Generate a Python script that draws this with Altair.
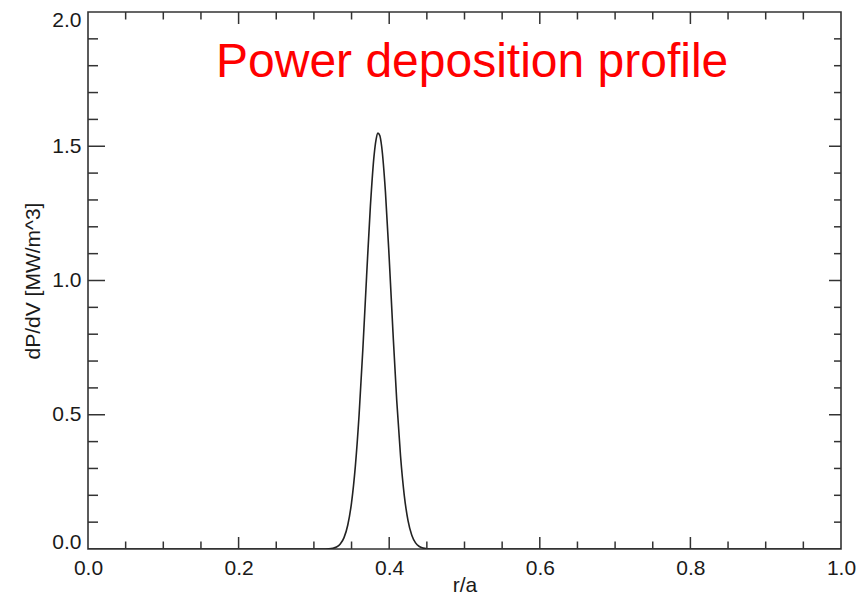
import altair as alt
import pandas as pd

# ---- data ----
r_vals = [0.0, 0.300, 0.310, 0.320, 0.325, 0.330, 0.335, 0.340, 0.345, 0.350, 0.355,
          0.360, 0.365, 0.370, 0.375, 0.380, 0.3825, 0.385, 0.3875, 0.390, 0.395,
          0.400, 0.405, 0.410, 0.415, 0.420, 0.425, 0.430, 0.435, 0.440, 0.445,
          0.450, 0.460, 0.470, 1.0]
dpdv_vals = [0.0, 0.0, 0.0001, 0.0009, 0.0027, 0.0074, 0.0185, 0.0425, 0.0895, 0.173, 0.307,
             0.499, 0.744, 1.017, 1.276, 1.468, 1.524, 1.549, 1.540, 1.499, 1.330,
             1.083, 0.808, 0.553, 0.348, 0.200, 0.1057, 0.0512, 0.0227, 0.0093, 0.0035,
             0.0012, 0.0001, 0.0, 0.0]

x_major = [0.0, 0.2, 0.4, 0.6, 0.8, 1.0]
x_minor = [0.05, 0.10, 0.15, 0.25, 0.30, 0.35, 0.45, 0.50, 0.55,
           0.65, 0.70, 0.75, 0.85, 0.90, 0.95]
y_major = [0.0, 0.5, 1.0, 1.5, 2.0]
y_minor = [0.1, 0.2, 0.3, 0.4, 0.6, 0.7, 0.8, 0.9,
           1.1, 1.2, 1.3, 1.4, 1.6, 1.7, 1.8, 1.9]

title_text = ["Power deposition profile"]
title_x = [0.17]
title_y = [1.758]

W, H = 753, 537
FONT = "Liberation Sans"

curve = pd.DataFrame({"r": r_vals, "p": dpdv_vals})

xscale = alt.Scale(domain=[0, 1], nice=False, zero=False)
yscale = alt.Scale(domain=[0, 2], nice=False, zero=False)

xaxis = alt.Axis(values=x_major, format=".1f", ticks=False, domain=False,
                 grid=False, labelFontSize=21, labelFont=FONT,
                 labelColor="#1a1a1a", labelPadding=8, labelFlush=False,
                 title="r/a", titleFont=FONT, titleFontSize=21,
                 titleFontWeight="normal", titleColor="#1a1a1a",
                 titlePadding=-4)
yaxis = alt.Axis(values=y_major, format=".1f", ticks=False, domain=False,
                 grid=False, labelFontSize=21, labelFont=FONT,
                 labelColor="#1a1a1a", labelPadding=7, labelFlush=True,
                 labelFlushOffset=3,
                 title="dP/dV [MW/m^3]", titleFont=FONT, titleFontSize=21,
                 titleFontWeight="normal", titleColor="#1a1a1a",
                 titlePadding=8)

line = alt.Chart(curve).mark_line(
    color="#222222", strokeWidth=1.6, interpolate="monotone", clip=True
).encode(
    x=alt.X("r:Q", scale=xscale, axis=xaxis),
    y=alt.Y("p:Q", scale=yscale, axis=yaxis),
)


def xticks(vals, y0, y1, w=1.5):
    df = pd.DataFrame({"v": vals})
    return alt.Chart(df).mark_rule(color="#333333", strokeWidth=w).encode(
        x=alt.X("v:Q", scale=xscale, axis=xaxis),
        y=alt.value(y0), y2=alt.value(y1))


def yticks(vals, x0, x1, w=1.5):
    df = pd.DataFrame({"v": vals})
    return alt.Chart(df).mark_rule(color="#333333", strokeWidth=w).encode(
        y=alt.Y("v:Q", scale=yscale, axis=yaxis),
        x=alt.value(x0), x2=alt.value(x1))


tick_layers = [
    xticks(x_major[1:-1], H, H - 12),
    xticks(x_minor, H, H - 7.5),
    xticks(x_major[1:-1], 0, 12),
    xticks(x_minor, 0, 7.5),
    yticks(y_major[1:-1], 0, 17),
    yticks(y_minor, 0, 10),
    yticks(y_major[1:-1], W, W - 12),
    yticks(y_minor, W, W - 7),
]

ann = pd.DataFrame({"t": title_text, "x": title_x, "y": title_y})
label = alt.Chart(ann).mark_text(
    align="left", baseline="alphabetic", font=FONT, fontSize=48, color="#ff0000"
).encode(
    x=alt.X("x:Q", scale=xscale, axis=xaxis),
    y=alt.Y("y:Q", scale=yscale, axis=yaxis),
    text="t:N",
)

chart = alt.layer(line, *tick_layers, label).properties(
    width=W, height=H,
    autosize=alt.AutoSizeParams(type="none"),
    padding={"left": 80, "top": 4, "right": 15, "bottom": 46},
    background="white",
).configure_view(
    stroke="#333333", strokeWidth=1.6
)

chart.save("out.html", embed_options={"renderer": "svg", "actions": False})
